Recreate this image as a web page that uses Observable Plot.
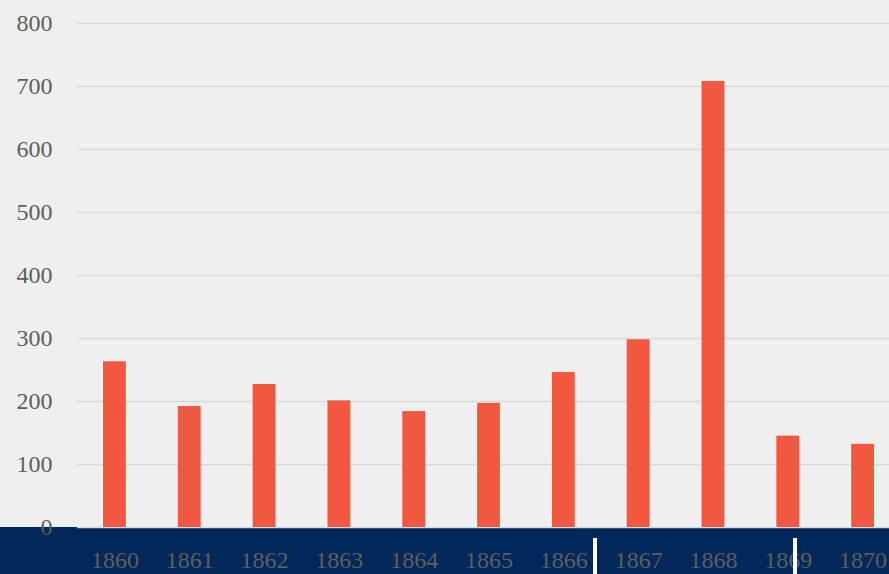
<!DOCTYPE html>
<html>
<head>
<meta charset="utf-8">
<script src="https://cdn.jsdelivr.net/npm/d3@7"></script>
<script src="https://cdn.jsdelivr.net/npm/@observablehq/plot@0.6"></script>
<style>
  html, body { margin: 0; padding: 0; background: #efefef; overflow: hidden; width: 889px; height: 574px; }
  #wrap { position: relative; width: 889px; height: 574px; overflow: hidden; }
  #band { position: absolute; left: 0; top: 527px; width: 889px; height: 47px; background: #00285a; }
  .handle { position: absolute; top: 538px; width: 4px; height: 36px; background: #ffffff; }
  #chart { position: absolute; left: 0; top: 0; width: 900px; }
  #chart svg { max-width: none !important; }
</style>
</head>
<body>
<div id="wrap">
  <div id="band"></div>
  <div id="chart"></div>
  <div class="handle" style="left:593px"></div>
  <div class="handle" style="left:793px"></div>
</div>
<script>
const years = ["1860","1861","1862","1863","1864","1865","1866","1867","1868","1869","1870"];
const counts = [263, 192, 227, 201, 184, 197, 246, 298, 708, 145, 132];
const yTicks = [0, 100, 200, 300, 400, 500, 600, 700, 800];

const data = years.map((y, i) => ({year: y, count: counts[i]}));

const chart = Plot.plot({
  width: 900,
  height: 574,
  marginLeft: 77,
  marginRight: 0,
  marginTop: 23,
  marginBottom: 47,
  style: {background: "transparent", fontFamily: "'Liberation Serif', serif", fontSize: "24px", overflow: "visible", maxWidth: "none"},
  x: {domain: years, padding: 0, round: false, label: null},
  y: {domain: [0, 800], ticks: yTicks, label: null},
  marks: [
    Plot.gridY(yTicks, {stroke: "#d9d9d9", strokeOpacity: 1, strokeWidth: 1.5}),
    Plot.barY(data, {x: "year", y: "count", fill: "#f2583f", insetLeft: 26, insetRight: 26}),
    Plot.axisY(yTicks, {tickSize: 0, tickPadding: 25, fill: "#5e5e5e", fontSize: 24, label: null}),
    Plot.axisX({tickSize: 0, tickPadding: 23, fill: "#5e5e5e", fontSize: 24, label: null})
  ]
});
document.getElementById("chart").appendChild(chart);
</script>
</body>
</html>
